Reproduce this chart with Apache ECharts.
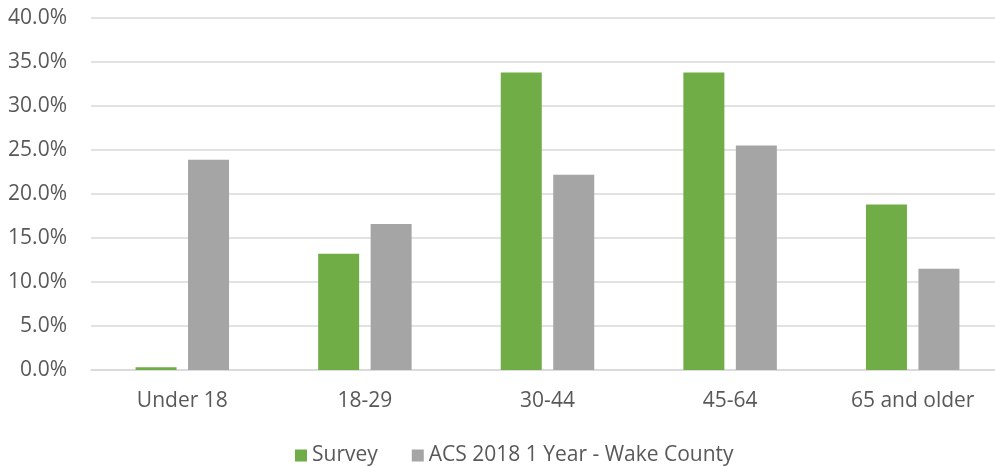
<!DOCTYPE html>
<html>
<head>
<meta charset="utf-8">
<script src="https://cdn.jsdelivr.net/npm/echarts@6/dist/echarts.min.js"></script>
<style>
  html, body { margin: 0; padding: 0; background: #fff; }
  #chart { width: 995px; height: 466px; }
</style>
</head>
<body>
<div id="chart"></div>
<script>
// Age groups and shares (percent)
const categories = ['Under 18', '18-29', '30-44', '45-64', '65 and older'];
const surveyValues = [0.3, 13.2, 33.8, 33.8, 18.8];
const acsValues = [23.9, 16.6, 22.2, 25.5, 11.5];
const seriesNames = ['Survey', 'ACS 2018 1 Year - Wake County'];

const textColor = '#595959';
const fontFamily = '"Open Sans", "Noto Sans", sans-serif';

const chart = echarts.init(document.getElementById('chart'), null, { renderer: 'canvas' });
chart.setOption({
  animation: false,
  textStyle: { fontFamily: fontFamily },
  // plot area runs slightly past the right edge of the canvas
  grid: { left: 91, width: 913, top: 18, bottom: 96, containLabel: false, outerBoundsMode: 'none' },
  legend: {
    top: 440,
    left: 290,
    itemWidth: 12,
    itemHeight: 12,
    itemGap: 34,
    icon: 'rect',
    textStyle: { color: textColor, fontSize: 21, fontFamily: fontFamily },
    data: seriesNames
  },
  xAxis: {
    type: 'category',
    data: categories,
    axisTick: { show: false },
    axisLine: { lineStyle: { color: '#D9D9D9', width: 1.5 } },
    axisLabel: { color: textColor, fontSize: 21, margin: 21, fontFamily: fontFamily }
  },
  yAxis: {
    type: 'value',
    min: 0,
    max: 40,
    interval: 5,
    axisLine: { show: false },
    axisTick: { show: false },
    splitLine: { lineStyle: { color: '#D9D9D9', width: 1.5 } },
    axisLabel: {
      color: textColor,
      fontSize: 21,
      margin: 24,
      fontFamily: fontFamily,
      formatter: v => v.toFixed(1) + '%'
    }
  },
  series: [
    {
      name: seriesNames[0],
      type: 'bar',
      data: surveyValues,
      barWidth: 41,
      barGap: '28%',
      itemStyle: { color: '#70AD47' }
    },
    {
      name: seriesNames[1],
      type: 'bar',
      data: acsValues,
      barWidth: 41,
      itemStyle: { color: '#A5A5A5' }
    }
  ]
});
</script>
</body>
</html>
